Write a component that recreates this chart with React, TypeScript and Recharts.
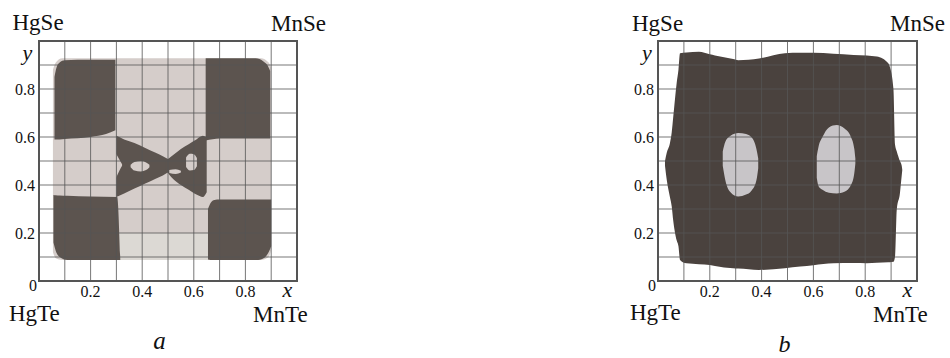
import React from 'react';
import { ComposedChart, Area, XAxis, YAxis, CartesianGrid, ReferenceArea } from 'recharts';

type Band = [number, number, number]; // [x, yLow, yHigh]

// ---------- chart a : phase regions ----------
const aLightField: Band[] = [
  [0.054, 0.12, 0.88], [0.065, 0.095, 0.91], [0.09, 0.088, 0.928], [0.5, 0.088, 0.928],
  [0.86, 0.088, 0.928], [0.89, 0.1, 0.91], [0.9, 0.13, 0.89],
];
const aLightLower: Band[] = [
  [0.31, 0.088, 0.2], [0.5, 0.088, 0.2], [0.655, 0.088, 0.2],
];
const aTopLeft: Band[] = [
  [0.06, 0.59, 0.85], [0.068, 0.59, 0.89], [0.08, 0.59, 0.91], [0.1, 0.592, 0.92],
  [0.2, 0.6, 0.922], [0.26, 0.612, 0.922], [0.296, 0.628, 0.922],
];
const aTopRight: Band[] = [
  [0.646, 0.585, 0.928], [0.7, 0.594, 0.928], [0.84, 0.594, 0.928], [0.87, 0.594, 0.915],
  [0.885, 0.594, 0.9], [0.896, 0.594, 0.875],
];
const aBottomLeft: Band[] = [
  [0.056, 0.16, 0.358], [0.065, 0.125, 0.357], [0.08, 0.1, 0.356], [0.11, 0.088, 0.355],
  [0.2, 0.088, 0.352], [0.303, 0.088, 0.35], [0.315, 0.088, 0.09],
];
const aBottomRight: Band[] = [
  [0.655, 0.09, 0.3], [0.665, 0.088, 0.325], [0.68, 0.088, 0.338], [0.7, 0.088, 0.34],
  [0.85, 0.088, 0.34], [0.875, 0.098, 0.34], [0.89, 0.12, 0.34], [0.9, 0.145, 0.34],
];
const aLeftLobe: Band[] = [
  [0.3, 0.35, 0.605], [0.33, 0.365, 0.59], [0.37, 0.385, 0.575], [0.41, 0.405, 0.555],
  [0.45, 0.425, 0.535], [0.48, 0.44, 0.52], [0.505, 0.455, 0.505],
];
const aLeftNotch: Band[] = [
  [0.299, 0.43, 0.53], [0.312, 0.46, 0.505], [0.322, 0.48, 0.486],
];
const aLeftHole: Band[] = [
  [0.355, 0.474, 0.484], [0.37, 0.46, 0.496], [0.395, 0.456, 0.5], [0.415, 0.462, 0.494], [0.428, 0.474, 0.484],
];
const aRightLobe: Band[] = [
  [0.49, 0.465, 0.5], [0.52, 0.425, 0.525], [0.55, 0.4, 0.55], [0.58, 0.38, 0.57],
  [0.61, 0.36, 0.59], [0.635, 0.35, 0.605], [0.65, 0.37, 0.6],
];
const aRightNotch: Band[] = [
  [0.505, 0.45, 0.462], [0.53, 0.446, 0.466], [0.55, 0.452, 0.459],
];
const aRightHole: Band[] = [
  [0.57, 0.475, 0.515], [0.585, 0.46, 0.53], [0.6, 0.462, 0.528], [0.612, 0.478, 0.512],
];

// ---------- chart b : phase regions ----------
const bDarkField: Band[] = [
  [0.027, 0.48, 0.5], [0.034, 0.42, 0.535], [0.046, 0.35, 0.574], [0.053, 0.31, 0.62],
  [0.059, 0.25, 0.685], [0.072, 0.17, 0.824], [0.079, 0.145, 0.88], [0.085, 0.088, 0.949],
  [0.11, 0.074, 0.952], [0.158, 0.07, 0.955], [0.2, 0.067, 0.945], [0.22, 0.063, 0.94],
  [0.29, 0.053, 0.925], [0.31, 0.052, 0.92], [0.39, 0.046, 0.927], [0.49, 0.053, 0.949],
  [0.549, 0.06, 0.951], [0.6, 0.066, 0.951], [0.677, 0.074, 0.947], [0.755, 0.075, 0.942],
  [0.806, 0.074, 0.94], [0.845, 0.076, 0.935], [0.889, 0.078, 0.907], [0.895, 0.078, 0.893],
  [0.909, 0.08, 0.8], [0.915, 0.1, 0.57], [0.922, 0.3, 0.54], [0.934, 0.365, 0.5],
  [0.941, 0.44, 0.48], [0.943, 0.46, 0.465],
];
const bLeftHole: Band[] = [
  [0.25, 0.48, 0.54], [0.26, 0.42, 0.58], [0.28, 0.37, 0.605], [0.31, 0.352, 0.617],
  [0.34, 0.36, 0.612], [0.36, 0.375, 0.6], [0.38, 0.42, 0.55], [0.387, 0.47, 0.51],
];
const bRightHole: Band[] = [
  [0.613, 0.43, 0.52], [0.62, 0.395, 0.56], [0.635, 0.38, 0.6], [0.66, 0.368, 0.64],
  [0.69, 0.365, 0.65], [0.72, 0.372, 0.635], [0.745, 0.4, 0.6], [0.758, 0.45, 0.55],
  [0.762, 0.49, 0.51],
];

// ---------- axes ----------
const xTicks = [0, 0.2, 0.4, 0.6, 0.8];
const yTicks = [0.2, 0.4, 0.6, 0.8];
const gridValues = [0, 0.1, 0.2, 0.3, 0.4, 0.5, 0.6, 0.7, 0.8, 0.9, 1];

const DARK_A = '#5c544f';
const LIGHT_A = '#d5cdca';
const LIGHT_A2 = '#dcd9d4';
const DARK_B = '#4a423e';
const HOLE_B = '#c8c5c8';

type Layer = { key: string; color: string; pts: Band[] };

const layersA: Layer[] = [
  { key: 'field', color: LIGHT_A, pts: aLightField },
  { key: 'lower', color: LIGHT_A2, pts: aLightLower },
  { key: 'tl', color: DARK_A, pts: aTopLeft },
  { key: 'tr', color: DARK_A, pts: aTopRight },
  { key: 'bl', color: DARK_A, pts: aBottomLeft },
  { key: 'br', color: DARK_A, pts: aBottomRight },
  { key: 'll', color: DARK_A, pts: aLeftLobe },
  { key: 'rl', color: DARK_A, pts: aRightLobe },
  { key: 'ln', color: LIGHT_A, pts: aLeftNotch },
  { key: 'lh', color: LIGHT_A, pts: aLeftHole },
  { key: 'rn', color: LIGHT_A, pts: aRightNotch },
  { key: 'rh', color: LIGHT_A, pts: aRightHole },
];
const layersB: Layer[] = [
  { key: 'field', color: DARK_B, pts: bDarkField },
  { key: 'lh', color: HOLE_B, pts: bLeftHole },
  { key: 'rh', color: HOLE_B, pts: bRightHole },
];

function buildRows(layers: Layer[]) {
  const rows: any[] = [];
  layers.forEach((l) => l.pts.forEach(([x, lo, hi]) => rows.push({ x, [l.key]: [lo, hi] })));
  return rows;
}

const FONT = '"Liberation Serif", "Times New Roman", serif';
const tickStyle = { fontFamily: FONT, fontSize: 16 };

const XTick = (props: any) => {
  const { x, y, payload } = props;
  if (payload.value === 0) {
    return (
      <text x={x - 6} y={y - 6} dy="0.71em" textAnchor="middle" style={tickStyle} fill="#111">0</text>
    );
  }
  return (
    <text x={x} y={y} dy="0.71em" textAnchor="middle" style={tickStyle} fill="#111">{payload.value}</text>
  );
};

const YTick = (props: any) => {
  const { x, y, payload } = props;
  return (
    <text x={x} y={y} dy="0.355em" textAnchor="end" style={tickStyle} fill="#111">{payload.value}</text>
  );
};

function Panel({ left, width, right, yw, layers }: { left: number; width: number; right: number; yw: number; layers: Layer[] }) {
  const rows = buildRows(layers);
  return (
    <div style={{ position: 'absolute', left, top: 0 }}>
      <ComposedChart width={width} height={358} data={rows} margin={{ top: 41, right, left: 0, bottom: 0 }}>
        <XAxis dataKey="x" type="number" domain={[0, 1]} allowDataOverflow ticks={xTicks} interval={0}
          height={77} axisLine={false} tickLine={false} tickSize={0} tickMargin={5} tick={<XTick />} />
        <YAxis type="number" domain={[0, 1]} allowDataOverflow ticks={yTicks} interval={0}
          width={yw} axisLine={false} tickLine={false} tickSize={0} tickMargin={4} tick={<YTick />} />
        {layers.map((l) => (
          <Area key={l.key} dataKey={l.key} type="monotone" fill={l.color} fillOpacity={1} stroke="none"
            connectNulls isAnimationActive={false} dot={false} activeDot={false} />
        ))}
        <CartesianGrid verticalValues={gridValues} horizontalValues={gridValues} stroke="#555" strokeOpacity={0.8}
          strokeWidth={1} {...({ zIndex: 700 } as any)} />
        <ReferenceArea x1={0} x2={1} y1={0} y2={1} fill="none" stroke="#555" strokeWidth={2} ifOverflow="visible"
          {...({ zIndex: 800 } as any)} />
      </ComposedChart>
    </div>
  );
}

const T = (p: { x: number; y: number; t: string; size?: number; italic?: boolean; anchor?: string }) => (
  <text x={p.x} y={p.y} fontSize={p.size ?? 23} fontFamily={FONT} fontStyle={p.italic ? 'italic' : 'normal'}
    textAnchor={(p.anchor as any) ?? 'start'} fill="#111">{p.t}</text>
);

export default function App() {
  return (
    <div style={{ position: 'absolute', left: 0, top: 0, width: 950, height: 358, background: '#fff', overflow: 'hidden' }}>
      <Panel left={0} width={320} right={23} yw={39} layers={layersA} />
      <Panel left={620} width={330} right={33} yw={38} layers={layersB} />
      <svg width={950} height={358} style={{ position: 'absolute', left: 0, top: 0, pointerEvents: 'none' }}>
        <T x={12.5} y={30} t="HgSe" />
        <T x={271} y={31} t="MnSe" />
        <T x={9} y={321} t="HgTe" />
        <T x={253} y={322} t="MnTe" />
        <T x={27.5} y={60} t="y" size={22} italic anchor="middle" />
        <T x={287.5} y={297} t="x" size={22} italic anchor="middle" />
        <T x={159.5} y={349} t="a" size={25} italic anchor="middle" />
        <T x={632} y={31} t="HgSe" />
        <T x={890} y={31} t="MnSe" />
        <T x={630} y={320} t="HgTe" />
        <T x={873} y={322} t="MnTe" />
        <T x={647} y={60} t="y" size={22} italic anchor="middle" />
        <T x={907.5} y={297} t="x" size={22} italic anchor="middle" />
        <T x={784.5} y={352} t="b" size={24} italic anchor="middle" />
      </svg>
    </div>
  );
}
